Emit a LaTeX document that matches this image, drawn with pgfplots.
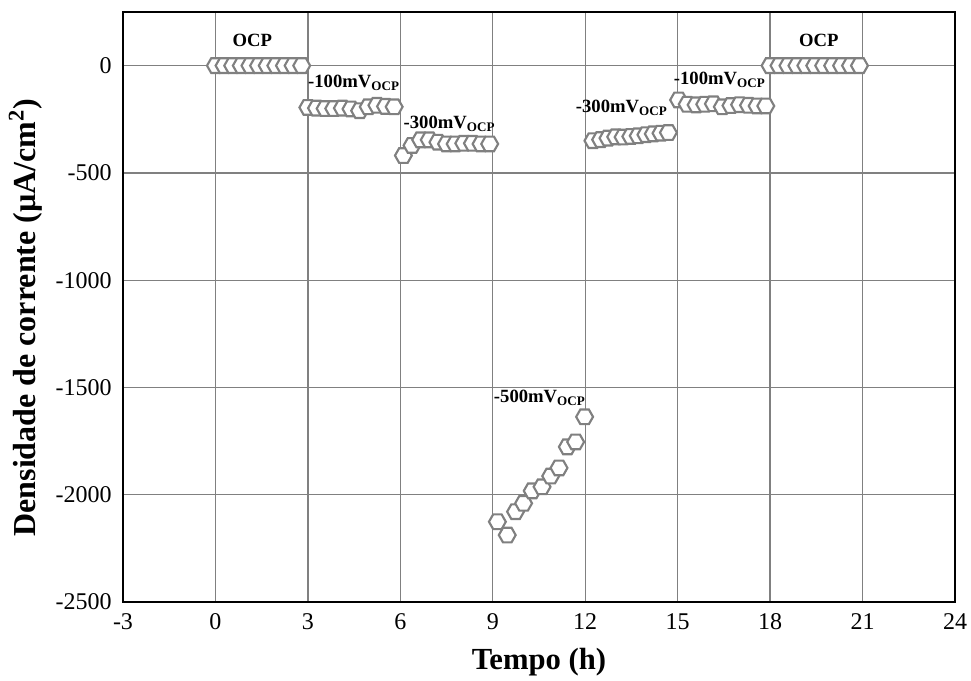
\documentclass[border=0pt]{standalone}
\usepackage{fontspec}
\setmainfont{Liberation Serif}
\usepackage{pgfplots}
\pgfplotsset{compat=1.18}
\usetikzlibrary{calc}

% flat-top hexagon
\pgfdeclareplotmark{hexa}{%
  \pgfpathmoveto{\pgfqpoint{1.15\pgfplotmarksize}{0pt}}%
  \pgfpathlineto{\pgfqpoint{0.58\pgfplotmarksize}{\pgfplotmarksize}}%
  \pgfpathlineto{\pgfqpoint{-0.58\pgfplotmarksize}{\pgfplotmarksize}}%
  \pgfpathlineto{\pgfqpoint{-1.15\pgfplotmarksize}{0pt}}%
  \pgfpathlineto{\pgfqpoint{-0.58\pgfplotmarksize}{-\pgfplotmarksize}}%
  \pgfpathlineto{\pgfqpoint{0.58\pgfplotmarksize}{-\pgfplotmarksize}}%
  \pgfpathclose
  \pgfusepathqfillstroke}

\definecolor{mk}{RGB}{128,128,128}

\begin{document}
\begin{tikzpicture}
\begin{axis}[
    scale only axis,
    width=624pt, height=442.5pt,
    xmin=-3, xmax=24, ymin=-2500, ymax=250,
    xtick={-3,0,...,24},
    ytick={-2500,-2000,-1500,-1000,-500,0},
    grid=major,
    major grid style={mk, line width=1pt},
    axis line style={black, line width=1.5pt},
    major tick length=0pt,
    /pgf/number format/assume math mode=true,
    /pgf/number format/set thousands separator={},
    tick label style={font=\fontsize{18}{19}\selectfont},
    yticklabel style={xshift=-5pt},
    xticklabel style={yshift=-5pt},
    xlabel={\textbf{Tempo (h)}},
    xlabel style={font=\fontsize{23}{25}\selectfont, at={(axis description cs:0.5,0)}, anchor=center, yshift=-45pt},
    ylabel={\textbf{Densidade de corrente (µA/cm\textsuperscript{2})}},
    ylabel style={font=\fontsize{24}{26}\selectfont, at={(axis description cs:0,0.5)}, anchor=center, yshift=73pt, xshift=-8pt},
    hexmark/.style={only marks, mark=hexa, mark size=5.5pt,
        mark options={draw=mk, fill=white, line width=1.6pt}},
    clip=false,
]
% OCP
\addplot[hexmark] coordinates {(0,0) (0.28,0) (0.56,0) (0.84,0) (1.12,0) (1.4,0) (1.68,0) (1.96,0) (2.24,0) (2.52,0) (2.8,0)};
% -100 mV
\addplot[hexmark] coordinates {(3.0,-195) (3.28,-198) (3.56,-200) (3.84,-200) (4.12,-198) (4.4,-202) (4.68,-210) (4.96,-192) (5.24,-185) (5.52,-190) (5.8,-192)};
% -300 mV
\addplot[hexmark] coordinates {(6.1,-419) (6.38,-372) (6.66,-346) (6.94,-346) (7.22,-357) (7.5,-365) (7.78,-365) (8.06,-362) (8.34,-362) (8.62,-365) (8.9,-365)};
% -500 mV
\addplot[hexmark] coordinates {(9.15,-2126) (9.47,-2188) (9.74,-2079) (10.0,-2040) (10.28,-1982) (10.6,-1963) (10.88,-1913) (11.15,-1875) (11.42,-1777) (11.69,-1754) (11.98,-1637)};
% -300 mV
\addplot[hexmark] coordinates {(12.25,-350) (12.5,-345) (12.74,-338) (12.99,-332) (13.23,-333) (13.48,-330) (13.72,-327) (13.97,-322) (14.21,-318) (14.46,-315) (14.7,-312)};
% -100 mV
\addplot[hexmark] coordinates {(15.03,-160) (15.31,-180) (15.6,-183) (15.88,-180) (16.16,-178) (16.45,-192) (16.73,-186) (17.01,-182) (17.3,-185) (17.58,-188) (17.86,-188)};
% OCP
\addplot[hexmark] coordinates {(18.0,0) (18.29,0) (18.58,0) (18.87,0) (19.16,0) (19.45,0) (19.74,0) (20.03,0) (20.32,0) (20.61,0) (20.9,0)};

\begin{scope}[every node/.style={font=\bfseries\fontsize{14}{15}\selectfont, inner sep=0pt}]
\node[anchor=center] at (axis cs:1.2,116) {OCP};
\node[anchor=base west] at (axis cs:3.0,-102) {-100mV\textsubscript{OCP}};
\node[anchor=base west] at (axis cs:6.1,-293) {-300mV\textsubscript{OCP}};
\node[anchor=base west] at (axis cs:9.03,-1569) {-500mV\textsubscript{OCP}};
\node[anchor=base west] at (axis cs:11.69,-219) {-300mV\textsubscript{OCP}};
\node[anchor=base west] at (axis cs:14.87,-88) {-100mV\textsubscript{OCP}};
\node[anchor=center] at (axis cs:19.58,116) {OCP};
\end{scope}
\end{axis}
\pgfresetboundingbox
\path[use as bounding box] ($(current axis.south west)+(-92.25pt,-59.25pt)$) rectangle ($(current axis.north east)+(12pt,9pt)$);
\end{tikzpicture}
\end{document}
